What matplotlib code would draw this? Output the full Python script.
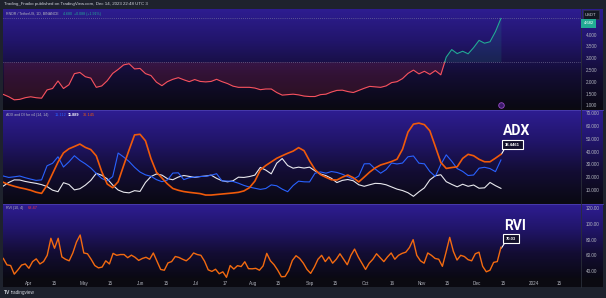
import numpy as np
import pandas as pd
import matplotlib
matplotlib.use('Agg')
import matplotlib.pyplot as plt
import matplotlib.dates as mdates
from matplotlib.colors import LinearSegmentedColormap

W, H = 606, 298

# RNDR/USDT daily close, sampled about every 3 days (Mar 18 -> Dec 14 2023)
price = [1.47, 1.37, 1.24, 1.26, 1.33, 1.37, 1.33, 1.31, 1.66, 1.72,
         2.04, 1.72, 1.88, 2.35, 2.40, 2.22, 2.16, 1.77, 1.83, 2.05,
         2.36, 2.53, 2.72, 2.77, 2.55, 2.57, 2.35, 2.27, 1.99, 1.84,
         2.01, 2.11, 2.18, 2.09, 2.01, 2.10, 2.02, 2.00, 2.02, 2.11,
         2.01, 1.93, 1.82, 1.77, 1.77, 1.77, 1.74, 1.67, 1.70, 1.70,
         1.55, 1.44, 1.46, 1.48, 1.45, 1.40, 1.38, 1.38, 1.46, 1.48,
         1.57, 1.64, 1.65, 1.59, 1.55, 1.64, 1.73, 1.81, 1.79, 1.77,
         1.83, 1.97, 2.01, 2.14, 2.36, 2.50, 2.34, 2.45, 2.32, 2.48,
         2.30, 3.05, 3.37, 3.20, 3.30, 3.19, 3.45, 3.76, 3.64, 3.70,
         4.13, 4.69]
adx = [16.1, 14.3, 13.0, 11.9, 11.0, 9.9, 8.4, 7.5, 13.8, 22.8,
       31.8, 39.0, 42.2, 44.0, 45.9, 43.3, 41.6, 36.7, 24.4, 14.8,
       11.9, 16.5, 29.1, 41.3, 53.0, 53.5, 48.4, 34.6, 24.0, 19.5,
       14.9, 11.3, 9.9, 8.9, 8.3, 7.8, 7.3, 6.2, 6.2, 6.6,
       7.0, 7.4, 7.8, 8.3, 9.4, 11.9, 17.0, 25.7, 29.2, 32.0,
       34.8, 36.8, 38.7, 40.4, 43.1, 40.7, 32.8, 26.0, 22.1, 20.0,
       18.1, 17.9, 20.1, 21.8, 19.7, 16.4, 20.2, 24.1, 27.3, 29.6,
       30.9, 32.3, 34.1, 41.8, 55.2, 61.4, 62.2, 61.0, 56.2, 44.0,
       31.6, 26.9, 27.6, 28.2, 34.7, 37.9, 36.8, 34.0, 32.1, 32.1,
       34.9, 37.9]
plus_di = [21.0, 19.9, 20.4, 21.0, 19.7, 18.6, 17.6, 18.0, 29.0, 30.9,
           36.0, 28.0, 32.0, 36.8, 33.2, 30.5, 27.3, 23.0, 19.1, 17.3,
           20.5, 38.9, 35.8, 32.3, 27.8, 24.1, 21.9, 20.8, 18.2, 16.6,
           17.9, 23.3, 23.5, 18.2, 19.7, 20.2, 20.6, 20.8, 21.6, 22.8,
           17.2, 17.1, 16.8, 15.4, 13.7, 12.4, 11.5, 10.6, 11.3, 14.1,
           13.4, 10.8, 8.8, 13.6, 17.0, 16.5, 16.4, 23.2, 24.2, 23.2,
           24.5, 23.8, 22.4, 20.5, 18.5, 21.0, 30.5, 30.6, 26.5, 23.2,
           26.0, 31.1, 30.4, 31.1, 36.0, 36.6, 31.0, 30.5, 24.5, 20.7,
           30.0, 37.5, 32.5, 26.8, 24.6, 21.4, 21.8, 27.1, 27.8, 26.8,
           24.4, 33.5]
minus_di = [13.2, 16.0, 18.0, 17.9, 16.8, 16.0, 15.3, 14.3, 12.8, 10.0,
            8.8, 15.8, 14.4, 10.2, 11.1, 13.9, 17.6, 23.1, 21.6, 18.8,
            14.0, 10.1, 8.4, 7.9, 9.6, 9.0, 16.0, 20.6, 22.6, 21.7,
            19.0, 18.1, 20.2, 21.4, 20.7, 19.9, 20.6, 21.0, 21.7, 19.2,
            17.3, 16.5, 17.3, 20.1, 19.9, 20.6, 21.7, 27.7, 25.6, 22.7,
            31.0, 34.6, 29.2, 27.1, 27.9, 27.2, 27.9, 25.0, 22.6, 21.3,
            19.2, 15.9, 17.6, 18.3, 17.3, 14.2, 13.0, 14.2, 15.3, 15.1,
            14.2, 12.5, 10.8, 9.7, 8.0, 5.2, 8.7, 11.8, 18.0, 21.2,
            22.0, 16.6, 14.5, 12.6, 14.6, 13.0, 14.0, 11.5, 11.8, 16.0,
            13.5, 11.4]
# RVI sampled about every 2 days
rvi = [56, 47.8, 47, 36, 41.5, 47.6, 49, 43.5, 52, 55.5,
       49, 52, 60, 81.7, 69, 81.7, 58, 55, 53, 63,
       77, 85.9, 63, 62, 55, 47, 44, 45, 53, 49,
       62.5, 60, 61, 61, 57, 60.2, 57.5, 53.5, 56, 57.5,
       55, 63, 52.5, 42, 41, 50.3, 52, 58.5, 57.3, 55,
       53, 57, 63, 61, 60, 52.5, 41.5, 39.5, 42.3, 36.5,
       39, 32, 47, 42.5, 46.8, 45.7, 51.8, 43, 42.8, 43.4,
       41, 46.5, 62.5, 53, 48, 41, 32.7, 33, 40.5, 53.5,
       59.5, 56, 50, 42, 37, 45, 55, 60, 52, 58,
       50, 55, 62, 55, 48, 60, 68, 58, 50, 42,
       50, 55, 62, 57, 52, 58, 63, 55, 60, 62.5,
       64, 70, 80, 60, 53, 50, 63, 60, 56, 55,
       46, 64, 82.9, 65, 54, 60, 58.5, 54.5, 53, 62,
       64, 46, 39, 41, 51, 52, 70.2]

baseline = 2.85
tick_dates = ['2023-04-01', '2023-04-15', '2023-05-01', '2023-05-15', '2023-06-01',
              '2023-06-15', '2023-07-01', '2023-07-17', '2023-08-01', '2023-08-15',
              '2023-09-01', '2023-09-15', '2023-10-01', '2023-10-16', '2023-11-01',
              '2023-11-15', '2023-12-01', '2023-12-15', '2024-01-01', '2024-01-15']
tick_labels = ['Apr', '15', 'May', '15', 'Jun', '15', 'Jul', '17', 'Aug', '15',
               'Sep', '15', 'Oct', '16', 'Nov', '15', 'Dec', '15', '2024', '15']

dates = pd.date_range('2023-03-18', '2023-12-14', periods=len(price))
rvi_dates = pd.date_range('2023-03-18', '2023-12-14', periods=len(rvi))
x_left = pd.Timestamp('2023-03-17 20:00')
x_right = pd.Timestamp('2023-03-18') + pd.Timedelta(days=314.6)

plt.rcParams['font.family'] = ['Liberation Sans', 'DejaVu Sans']
AXC = '#b2b5be'

def rect(x0, y0, x1, y1):
    return [x0 / W, 1 - y1 / H, (x1 - x0) / W, (y1 - y0) / H]

def ftext(x, y, s, **kw):
    kw.setdefault('va', 'center')
    return fig.text(x / W, 1 - y / H, s, **kw)

fig = plt.figure(figsize=(W / 100, H / 100), dpi=100, facecolor='#1e222d')

# dark chart body
body = fig.add_axes(rect(3, 9, 603, 287), zorder=0)
body.set_facecolor('#0b0a11')
body.set_xticks([]); body.set_yticks([])
for s in body.spines.values():
    s.set_visible(False)

grad_cmap = LinearSegmentedColormap.from_list('pane', ['#0a0913', '#130d33', '#21156a', '#2e1d92'])
grad = np.linspace(0, 1, 256).reshape(-1, 1)[::-1]

panes = [(9, 108), (110, 203), (204, 278)]
axes = []
for y0, y1 in panes:
    bg = fig.add_axes(rect(3, y0, 603, y1), zorder=1)
    bg.imshow(grad, aspect='auto', cmap=grad_cmap, extent=[0, 1, 0, 1], interpolation='bilinear')
    bg.set_axis_off()
    ax = fig.add_axes(rect(3, y0, 581, y1), zorder=2)
    ax.set_facecolor('none')
    ax.set_xlim(x_left, x_right)
    for s in ax.spines.values():
        s.set_visible(False)
    ax.yaxis.tick_right()
    ax.tick_params(axis='y', length=0, pad=3.5, labelsize=3.3, labelcolor=AXC)
    ax.tick_params(axis='x', length=0, labelbottom=False)
    axes.append(ax)

# separators
for y in (109.5, 203.5):
    fig.add_artist(plt.Line2D([3 / W, 603 / W], [1 - y / H] * 2, color='#4b3fb0', lw=0.6))
fig.add_artist(plt.Line2D([581 / W, 581 / W], [1 - 9 / H, 1 - 287 / H], color='#2a2e39', lw=0.6))

# ---- price pane (baseline style): split the line where it crosses the baseline
ax1 = axes[0]
p = np.array(price)
xn = mdates.date2num(dates)
xs, ys = [xn[0]], [p[0]]
for i in range(1, len(p)):
    a, b = p[i - 1] - baseline, p[i] - baseline
    if a * b < 0:
        t = a / (a - b)
        xs.append(xn[i - 1] + t * (xn[i] - xn[i - 1]))
        ys.append(baseline)
    xs.append(xn[i])
    ys.append(p[i])
xs = mdates.num2date(np.array(xs))
ys = np.array(ys)
low = np.where(ys <= baseline, ys, np.nan)
high = np.where(ys >= baseline, ys, np.nan)

ax1.set_ylim(0.894, 5.089)
ax1.fill_between(xs, ys, baseline, where=ys <= baseline, color='#f23645', alpha=0.14, lw=0)
ax1.fill_between(xs, ys, baseline, where=ys >= baseline, color='#22ab94', alpha=0.13, lw=0)
ax1.plot(xs, low, color='#f7525f', lw=0.8)
ax1.plot(xs, high, color='#22ab94', lw=0.8)
ax1.axhline(baseline, color='#8a8aa8', lw=0.5, ls=(0, (1, 2)))
ax1.axhline(price[-1], color='#8a8aa8', lw=0.5, ls=(0, (1, 2)))
ax1.set_yticks([1.0, 1.5, 2.0, 2.5, 3.0, 3.5, 4.0])
ax1.set_yticklabels(['{:.3f}'.format(v) for v in ax1.get_yticks()])

# ---- ADX pane
ax2 = axes[1]
ax2.set_ylim(0, 72.4)
ax2.plot(dates, minus_di, color='#e8e8ee', lw=0.8)
ax2.plot(dates, plus_di, color='#2962ff', lw=0.8)
ax2.plot(dates, adx, color='#f05a0a', lw=1.2)
ax2.set_yticks(range(10, 80, 10))
ax2.set_yticklabels(['{:.3f}'.format(v) for v in range(10, 80, 10)])

# ---- RVI pane
ax3 = axes[2]
ax3.set_ylim(31.1, 125.4)
ax3.plot(rvi_dates, rvi, color='#f36a10', lw=1.0)
ax3.set_yticks([40, 60, 80, 100, 120])
ax3.set_yticklabels(['{:.2f}'.format(v) for v in [40, 60, 80, 100, 120]])
ax3.set_xticks(pd.to_datetime(tick_dates))
ax3.set_xticklabels(tick_labels)
ax3.tick_params(axis='x', length=0, pad=2.2, labelsize=3.3, labelcolor=AXC, labelbottom=True)

# ---- texts
ftext(4, 4.5, 'Trading_Fnaiko published on TradingView.com, Dec 14, 2023 22:48 UTC 3', fontsize=3.2, color='#d1d4dc')
ftext(6, 14, 'RNDR / TetherUS, 1D, BINANCE', fontsize=2.6, color='#b2b5be')
ftext(63, 14, '4.680  +0.088 (+1.91%)', fontsize=2.6, color='#22ab94')
ftext(6, 115, 'ADX and DI for v4 (14, 14)', fontsize=2.6, color='#b2b5be')
ftext(55, 115, '11.112', fontsize=2.8, color='#2962ff')
ftext(68, 115, '11.889', fontsize=2.8, color='white', weight='bold')
ftext(83, 115, '36.145', fontsize=2.8, color='#f05a0a')
ftext(6, 208, 'RVI (10, 4)', fontsize=2.6, color='#b2b5be')
ftext(28, 208, '68.47', fontsize=2.8, color='#f23645')

# price scale labels
ftext(585, 14.5, 'USDT', fontsize=3.0, color='#d1d4dc',
      bbox=dict(boxstyle='square,pad=0.5', fc='#131722', ec='#363a45', lw=0.5))
ftext(583.5, 23.5, '4.682', fontsize=3.0, color='white',
      bbox=dict(boxstyle='square,pad=0.6', fc='#22ab94', ec='none'))

# big annotations
ftext(503, 131, 'ADX', fontsize=10, color='white', weight='bold', family='Roboto')
ftext(505, 144.5, '38.4461', fontsize=3.0, color='white', weight='bold',
      bbox=dict(boxstyle='square,pad=0.7', fc='#120f2a', ec='white', lw=0.8))
fig.add_artist(plt.Line2D([501.5 / W, 505 / W], [1 - 154 / H, 1 - 148 / H], color='white', lw=0.8))
ftext(504, 226.5, 'RVI', fontsize=10, color='white', weight='bold', family='Roboto')
ftext(506, 238.5, '70.03', fontsize=3.0, color='white', weight='bold',
      bbox=dict(boxstyle='square,pad=0.7', fc='#120f2a', ec='white', lw=0.8))
fig.add_artist(plt.Line2D([501.5 / W, 505 / W], [1 - 248 / H, 1 - 242.5 / H], color='white', lw=0.8))

# event icon
fig.add_artist(plt.Line2D([500.5 / W], [1 - 105 / H], marker='o', ms=4, mfc='#3a1a6a', mec='#9c4dcc', mew=0.6))

# tradingview logo text
ftext(4, 292.5, 'TV', fontsize=3.6, color='#d1d4dc', weight='bold')
ftext(11, 292.5, 'tradingview', fontsize=3.3, color='#d1d4dc')

fig.savefig('out.png', dpi=100, facecolor=fig.get_facecolor())
